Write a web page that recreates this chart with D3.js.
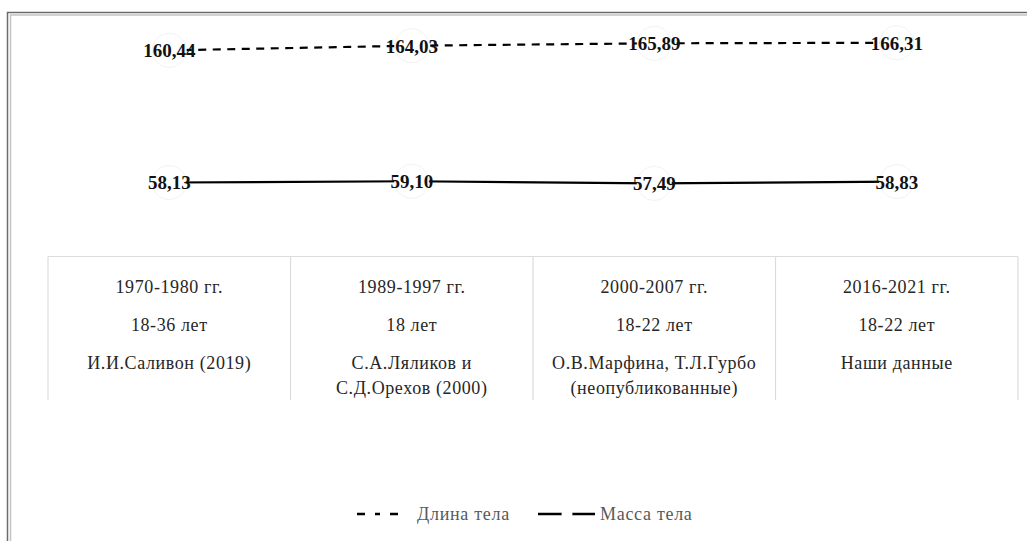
<!DOCTYPE html>
<html>
<head>
<meta charset="utf-8">
<script src="https://cdn.jsdelivr.net/npm/d3@7"></script>
<style>
  body { margin: 0; background: #fff; }
  svg { display: block; font-family: "Liberation Serif", "DejaVu Serif", serif; }
</style>
</head>
<body>
<div id="chart"></div>
<script>
"use strict";
// data
var periods = ["1970-1980 гг.", "1989-1997 гг.", "2000-2007 гг.", "2016-2021 гг."];
var ages = ["18-36 лет", "18 лет", "18-22 лет", "18-22 лет"];
var sources = [
    ["И.И.Саливон (2019)"],
    ["С.А.Ляликов и", "С.Д.Орехов (2000)"],
    ["О.В.Марфина, Т.Л.Гурбо", "(неопубликованные)"],
    ["Наши данные"]
];
var lengthValues = [160.44, 164.03, 165.89, 166.31];
var massValues = [58.13, 59.10, 57.49, 58.83];
var seriesNames = ["Длина тела", "Масса тела"];

function fmt(v) {
    return v.toFixed(2).replace(".", ",");
}

function drawChart() {
    var w = 1027, h = 541;
    var svg = d3.select("#chart").append("svg")
        .attr("width", w)
        .attr("height", h);

    // outer double frame
    svg.append("path").attr("d", "M7.5," + h + "V12.5H" + w)
        .attr("fill", "none").attr("stroke", "#6b6b6b").attr("stroke-width", 1.5);
    svg.append("path").attr("d", "M10.5," + h + "V15H" + w)
        .attr("fill", "none").attr("stroke", "#c4c4c4").attr("stroke-width", 1.5);

    var x = d3.scaleBand()
        .domain(periods)
        .range([48, 1018]);

    var y = d3.scaleLinear()
        .domain([50, 170])
        .range([193, 38]);

    var cx = function(d, i) { return x(periods[i]) + x.bandwidth() / 2; };

    // table below the plot
    var tableTop = 256.5, tableBottom = 400;
    var grid = svg.append("g").attr("stroke", "#dcdcdc").attr("stroke-width", 1.2);
    grid.append("line").attr("x1", x.range()[0]).attr("x2", x.range()[1])
        .attr("y1", tableTop).attr("y2", tableTop);
    grid.selectAll("line.v")
        .data(periods.concat(["end"]))
        .enter().append("line")
        .attr("class", "v")
        .attr("x1", function(d, i) { return i < periods.length ? x(d) : x.range()[1]; })
        .attr("x2", function(d, i) { return i < periods.length ? x(d) : x.range()[1]; })
        .attr("y1", tableTop).attr("y2", tableBottom);

    var cells = svg.selectAll("g.cell")
        .data(periods)
        .enter().append("g")
        .attr("class", "cell")
        .attr("transform", function(d, i) { return "translate(" + cx(d, i) + ",0)"; })
        .attr("fill", "#262626")
        .style("font-size", "18px")
        .style("letter-spacing", "0.6px")
        .attr("text-anchor", "middle");

    cells.append("text").attr("y", 293).text(function(d) { return d; });
    cells.append("text").attr("y", 331).text(function(d, i) { return ages[i]; });
    cells.each(function(d, i) {
        d3.select(this).selectAll("text.src")
            .data(sources[i])
            .enter().append("text")
            .attr("class", "src")
            .attr("y", function(s, j) { return 369 + j * 25; })
            .text(function(s) { return s; });
    });

    // lines
    var line = d3.line()
        .x(function(d, i) { return cx(d, i); })
        .y(function(d) { return y(d); });

    var series = [
        { name: seriesNames[0], values: lengthValues, dash: "8,6.5" },
        { name: seriesNames[1], values: massValues, dash: null }
    ];

    series.forEach(function(s) {
        svg.append("path")
            .datum(s.values)
            .attr("fill", "none")
            .attr("stroke", "#000")
            .attr("stroke-width", 2.2)
            .attr("stroke-dasharray", s.dash)
            .attr("d", line);

        svg.selectAll(null)
            .data(s.values)
            .enter().append("circle")
            .attr("cx", cx)
            .attr("cy", function(d) { return y(d); })
            .attr("r", 17)
            .attr("fill", "#fff")
            .attr("stroke", "#f3f3f3");

        svg.selectAll(null)
            .data(s.values)
            .enter().append("text")
            .attr("x", cx)
            .attr("y", function(d) { return y(d) + 7; })
            .attr("text-anchor", "middle")
            .style("font-size", "19px")
            .style("font-weight", "bold")
            .attr("fill", "#111")
            .text(fmt);
    });

    // legend
    var legend = svg.selectAll("g.legend")
        .data(series)
        .enter().append("g")
        .attr("class", "legend")
        .attr("transform", function(d, i) { return "translate(" + (357 + i * 181) + ",514)"; });

    legend.append("line")
        .attr("x1", 0).attr("x2", function(d, i) { return i === 0 ? 45 : 57; })
        .attr("stroke", "#000")
        .attr("stroke-width", 2.4)
        .attr("stroke-dasharray", function(d) { return d.dash ? "8,10,5,10" : null; });

    legend.filter(function(d) { return !d.dash; })
        .append("circle")
        .attr("cx", 29).attr("r", 5.5)
        .attr("fill", "#fff");

    legend.append("text")
        .attr("x", function(d, i) { return i === 0 ? 60 : 62; })
        .attr("y", 6)
        .style("font-size", "18px")
        .style("letter-spacing", "0.7px")
        .attr("fill", "#595959")
        .text(function(d) { return d.name; });
}

window.addEventListener("load", function() {
    drawChart();
});
</script>
</body>
</html>
